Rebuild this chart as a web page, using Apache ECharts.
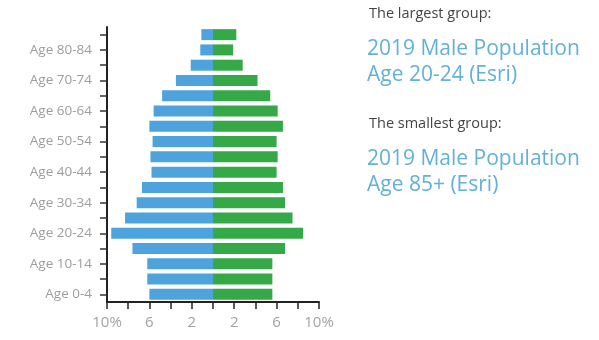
<!DOCTYPE html>
<html>
<head>
<meta charset="utf-8">
<style>
html,body{margin:0;padding:0;background:#fff;}
#chart{width:599px;height:340px;}
</style>
<script src="https://cdn.jsdelivr.net/npm/echarts@6/dist/echarts.min.js"></script>
</head>
<body>
<div id="chart"></div>
<script>
var categories = ['Age 0-4','Age 5-9','Age 10-14','Age 15-19','Age 20-24','Age 25-29','Age 30-34','Age 35-39','Age 40-44','Age 45-49','Age 50-54','Age 55-59','Age 60-64','Age 65-69','Age 70-74','Age 75-79','Age 80-84','Age 85+'];
var malePct = [6.0, 6.2, 6.2, 7.6, 9.6, 8.3, 7.2, 6.7, 5.8, 5.9, 5.7, 6.0, 5.6, 4.8, 3.5, 2.1, 1.2, 1.1];
var femalePct = [5.6, 5.6, 5.6, 6.8, 8.5, 7.5, 6.8, 6.6, 6.0, 6.1, 6.0, 6.6, 6.1, 5.4, 4.2, 2.8, 1.9, 2.2];
var xTickValues = [-10, -6, -2, 2, 6, 10];
var xTickLabels = ['10%', '6', '2', '2', '6', '10%'];
var infoTexts = ['The largest group:', '2019 Male Population', 'Age 20-24 (Esri)', 'The smallest group:', '2019 Male Population', 'Age 85+ (Esri)'];

var chart = echarts.init(document.getElementById('chart'), null, {renderer: 'canvas'});
var fontFam = '"Open Sans", Lato, sans-serif';
chart.setOption({
  animation: false,
  backgroundColor: '#ffffff',
  grid: {left: 107, right: 280, top: 27, bottom: 38},
  xAxis: {
    type: 'value', min: -10, max: 10, interval: 2,
    axisLine: {show: true, lineStyle: {color: '#222', width: 2}},
    axisTick: {show: true, length: 7, lineStyle: {color: '#222', width: 1.5}},
    splitLine: {show: false},
    axisLabel: {
      color: '#a3a3a3', fontSize: 15, fontFamily: fontFam, margin: 13,
      formatter: function (v) {
        var i = xTickValues.indexOf(v);
        return i >= 0 ? xTickLabels[i] : '';
      }
    }
  },
  yAxis: {
    type: 'category', data: categories,
    axisLine: {show: true, onZero: false, lineStyle: {color: '#222', width: 2}},
    axisTick: {show: true, interval: 0, alignWithLabel: true, length: 7, lineStyle: {color: '#333', width: 1.5}},
    axisLabel: {interval: 1, color: '#9d9d9d', fontSize: 13.5, fontFamily: fontFam, margin: 15}
  },
  series: [
    {
      name: 'Male', type: 'bar', stack: 'pop', barWidth: 11,
      itemStyle: {color: '#4ea3dc'},
      data: malePct.map(function (v) { return -v; })
    },
    {
      name: 'Female', type: 'bar', stack: 'pop', barWidth: 11,
      itemStyle: {color: '#35a847'},
      data: femalePct
    }
  ],
  graphic: [
    {type: 'text', left: 369, top: 6, style: {text: infoTexts[0], fill: '#444', font: '14.5px ' + fontFam}},
    {type: 'text', left: 367, top: 39, style: {text: infoTexts[1], fill: '#63b0da', font: '21px ' + fontFam}},
    {type: 'text', left: 367, top: 65, style: {text: infoTexts[2], fill: '#63b0da', font: '21px ' + fontFam}},
    {type: 'text', left: 369, top: 116, style: {text: infoTexts[3], fill: '#444', font: '14.5px ' + fontFam}},
    {type: 'text', left: 367, top: 149, style: {text: infoTexts[4], fill: '#63b0da', font: '21px ' + fontFam}},
    {type: 'text', left: 367, top: 175, style: {text: infoTexts[5], fill: '#63b0da', font: '21px ' + fontFam}}
  ]
});
</script>
</body>
</html>
